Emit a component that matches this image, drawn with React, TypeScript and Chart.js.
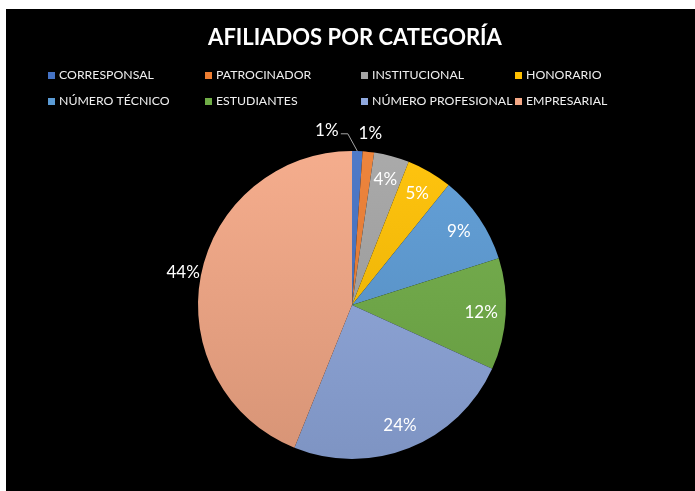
import React, { useEffect, useRef } from "react";
import { Chart, registerables } from "chart.js";

Chart.register(...registerables);

const title = "AFILIADOS POR CATEGORÍA";
const categories = [
  "CORRESPONSAL",
  "PATROCINADOR",
  "INSTITUCIONAL",
  "HONORARIO",
  "NÚMERO TÉCNICO",
  "ESTUDIANTES",
  "NÚMERO PROFESIONAL",
  "EMPRESARIAL",
];
const shares = [1.1, 1.2, 3.7, 4.8, 9.3, 11.7, 24.3, 43.9];
const colors = ["#4472C4", "#ED7D31", "#A5A5A5", "#FFC000", "#5B9BD5", "#70AD47", "#8FA8DE", "#F4A886"];
const labelModes = ["leader", "outside", "inside", "inside", "inside", "inside", "inside", "outside"];

const FONT = "Lato, 'Open Sans', sans-serif";

function shade(hex: string, f: number) {
  const n = parseInt(hex.slice(1), 16);
  let r = (n >> 16) & 255, g = (n >> 8) & 255, b = n & 255;
  if (f >= 0) {
    r = r + (255 - r) * f; g = g + (255 - g) * f; b = b + (255 - b) * f;
  } else {
    r = r * (1 + f); g = g * (1 + f); b = b * (1 + f);
  }
  return `rgb(${Math.round(r)},${Math.round(g)},${Math.round(b)})`;
}

const bgPlugin = {
  id: "bg",
  beforeDraw(chart: any) {
    const ctx = chart.ctx;
    ctx.save();
    ctx.fillStyle = "#000000";
    ctx.fillRect(0, 0, chart.width, chart.height);
    ctx.restore();
  },
};

const headerPlugin = {
  id: "header",
  afterDraw(chart: any) {
    const ctx = chart.ctx;
    ctx.save();
    ctx.fillStyle = "#FFFFFF";
    ctx.font = `bold 22px ${FONT}`;
    ctx.textAlign = "center";
    ctx.textBaseline = "alphabetic";
    ctx.fillText(title, 349, 36);

    const colX = [42, 199, 355, 509];
    const rowY = [70, 96];
    ctx.font = `12.3px ${FONT}`;
    ctx.textAlign = "left";
    const labels = chart.data.labels as string[];
    labels.forEach((lab, i) => {
      const cx = colX[i % 4];
      const by = rowY[Math.floor(i / 4)];
      ctx.fillStyle = colors[i];
      ctx.fillRect(cx, by - 7, 7, 7);
      ctx.fillStyle = "#F0F0F0";
      ctx.fillText(lab, cx + 11, by);
    });
    ctx.restore();
  },
};

const labelPlugin = {
  id: "pctLabels",
  afterDatasetsDraw(chart: any) {
    const ctx = chart.ctx;
    const meta = chart.getDatasetMeta(0);
    const data = chart.data.datasets[0].data as number[];
    const total = data.reduce((a, b) => a + b, 0);
    ctx.save();
    ctx.font = `17px ${FONT}`;
    ctx.textAlign = "center";
    ctx.textBaseline = "middle";
    meta.data.forEach((arc: any, i: number) => {
      const p = arc.getProps(["x", "y", "startAngle", "endAngle", "outerRadius"], true);
      const mid = (p.startAngle + p.endAngle) / 2;
      const text = Math.round((data[i] / total) * 100) + "%";
      const mode = labelModes[i];
      let ang = mid;
      let dist = p.outerRadius * 0.84;
      if (mode === "outside") dist = p.outerRadius + 18;
      if (mode === "leader") {
        ang = mid - (10.2 * Math.PI) / 180;
        dist = p.outerRadius + 22;
      }
      const lx = p.x + Math.cos(ang) * dist;
      const ly = p.y + Math.sin(ang) * dist;
      if (mode === "leader") {
        ctx.strokeStyle = "#A6A6A6";
        ctx.lineWidth = 1;
        ctx.beginPath();
        ctx.moveTo(lx + 14, ly + 3);
        ctx.lineTo(lx + 21, ly + 3);
        ctx.lineTo(p.x + Math.cos(mid) * p.outerRadius, p.y + Math.sin(mid) * p.outerRadius);
        ctx.stroke();
      }
      ctx.fillStyle = "#FFFFFF";
      ctx.fillText(text, lx, ly);
    });
    ctx.restore();
  },
};

export default function App() {
  const ref = useRef<HTMLCanvasElement | null>(null);
  useEffect(() => {
    if (!ref.current) return;
    const chart = new Chart(ref.current, {
      type: "pie",
      data: {
        labels: categories,
        datasets: [
          {
            data: shares,
            backgroundColor: (c: any) => {
              const base = colors[c.dataIndex];
              const area = c.chart.chartArea;
              if (!area) return base;
              const g = c.chart.ctx.createLinearGradient(0, area.top, 0, area.bottom);
              g.addColorStop(0, shade(base, 0.06));
              g.addColorStop(1, shade(base, -0.12));
              return g;
            },
            borderWidth: 0,
          },
        ],
      },
      options: {
        responsive: false,
        animation: false,
        events: [],
        layout: { padding: { left: 192, right: 189, top: 142, bottom: 32 } },
        plugins: {
          legend: { display: false },
          title: { display: false },
          tooltip: { enabled: false },
        },
      },
      plugins: [bgPlugin, headerPlugin, labelPlugin],
    });
    return () => chart.destroy();
  }, []);
  return (
    <div style={{ position: "fixed", left: 6, top: 9, width: 689, height: 482 }}>
      <canvas ref={ref} width={689} height={482} style={{ display: "block" }} />
    </div>
  );
}
